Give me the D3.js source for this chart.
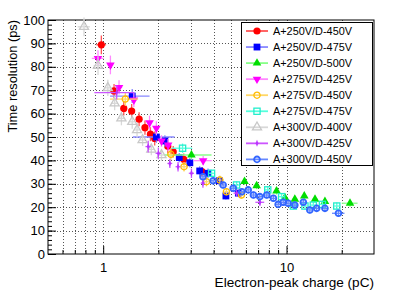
<!DOCTYPE html>
<html>
<head>
<meta charset="utf-8">
<script src="https://cdn.jsdelivr.net/npm/d3@7"></script>
<style>
body { margin: 0; background: #fff; }
text { font-family: "Liberation Sans", Arial, sans-serif; fill: #000; }
</style>
</head>
<body>
<script>
// legend names, one per series
const names = ["A+250V/D-450V", "A+250V/D-475V", "A+250V/D-500V",
    "A+275V/D-425V", "A+275V/D-450V", "A+275V/D-475V",
    "A+300V/D-400V", "A+300V/D-425V", "A+300V/D-450V"];

// each row: [charge (pC), resolution (ps), charge err, resolution err]
const a250d450 = [[0.977, 89.4, 0.06, 4], [1.146, 69.7, 0.06, 3], [1.295, 62.2, 0.05, 3], [1.43, 61.1, 0.05, 3],
    [1.57, 57.6, 0.05, 3], [1.69, 54.0, 0.05, 3], [1.81, 51.2, 0.05, 3], [1.91, 49.4, 0.05, 3],
    [2.25, 46.0, 0.06, 3], [2.41, 43.7, 0.06, 2.5], [2.75, 40.5, 0.07, 2.5], [3.46, 35.2, 0.08, 2]];
const a250d475 = [[1.44, 67.5, 0.35, 3], [1.95, 50.0, 0.5, 2.5], [2.17, 48.3, 0.08, 2.5], [2.6, 41.2, 0.08, 2],
    [2.97, 39.0, 0.1, 2], [3.36, 35.5, 0.1, 2], [3.73, 34.5, 0.1, 2], [4.3, 31.3, 0.12, 2],
    [4.67, 24.8, 0.15, 1.5], [5.46, 26.0, 0.15, 1.5]];
const a250d500 = [[3.03, 42.3, 0.87, 2], [5.9, 31.0, 0.2, 1.5], [6.87, 29.2, 0.25, 1.5], [8.82, 26.9, 0.3, 1.5],
    [9.8, 24.1, 0.3, 1.5], [11.1, 23.4, 0.4, 1.5], [12.5, 24.8, 0.4, 1.5], [14.3, 23.4, 0.5, 1.5],
    [16.2, 22.4, 0.6, 1.5], [22.2, 21.7, 2.2, 1.5]];
const a275d425 = [[0.937, 83.6, 0.07, 3.5], [1.095, 80.8, 0.04, 4], [1.22, 71.2, 0.05, 3], [1.47, 65.8, 0.05, 3],
    [1.79, 56.1, 0.05, 3], [1.95, 53.7, 0.05, 3], [2.08, 48.3, 0.06, 2.5], [2.26, 46.6, 0.06, 2.5],
    [3.51, 39.9, 0.4, 2]];
const a275d450 = [[1.32, 66.2, 0.23, 3], [2.34, 42.6, 0.07, 2.5], [2.76, 37.3, 0.08, 2], [3.66, 30.9, 0.1, 2],
    [4.33, 31.6, 0.1, 2], [4.7, 26.6, 0.12, 1.5], [5.68, 25.2, 0.15, 1.5]];
const a275d475 = [[2.71, 45.2, 0.35, 2], [3.9, 34.5, 0.12, 1.5], [5.34, 29.5, 0.2, 1.5], [7.9, 27.4, 0.3, 1.5],
    [9.4, 24.5, 0.3, 1.5], [10.9, 20.5, 0.35, 1.5], [12.6, 20.5, 0.4, 1.5], [14.0, 20.9, 0.45, 1.5],
    [15.7, 21.2, 0.5, 1.5], [18.8, 20.5, 0.6, 1.5]];
const a300d400 = [[0.786, 97.1, 0.06, 4], [0.937, 80.5, 0.05, 4], [1.06, 71.0, 0.05, 3.5], [1.155, 64.4, 0.05, 3],
    [1.257, 58.0, 0.05, 3], [1.44, 56.5, 0.05, 3], [1.53, 53.0, 0.05, 3], [1.64, 48.7, 0.05, 2.5],
    [1.83, 44.7, 0.06, 2.5], [2.08, 42.3, 0.07, 2.5]];
const a300d425 = [[1.185, 69.0, 0.29, 3], [1.76, 45.9, 0.06, 2.5], [2.0, 43.0, 0.07, 2.5], [2.31, 38.7, 0.07, 2],
    [2.56, 37.3, 0.08, 2], [3.03, 34.5, 0.1, 2], [3.5, 30.3, 0.1, 2], [5.34, 26.0, 0.2, 1.5],
    [7.16, 22.1, 0.4, 1.5]];
const a300d450 = [[3.5, 33.0, 0.1, 1.5], [3.98, 31.3, 0.12, 1.5], [4.51, 29.5, 0.13, 1.5], [5.12, 28.1, 0.15, 1.5],
    [5.7, 26.6, 0.17, 1.5], [6.18, 27.4, 0.18, 1.5], [6.6, 25.2, 0.2, 1.5], [7.15, 24.5, 0.21, 1.5],
    [7.8, 25.2, 0.23, 1.5], [8.48, 23.8, 0.25, 1.5], [9.0, 21.2, 0.27, 1.5], [9.6, 22.1, 0.29, 1.5],
    [10.2, 21.7, 0.3, 1.5], [11.1, 20.9, 0.33, 1.5], [12.35, 22.1, 0.37, 1.5], [13.4, 18.8, 0.4, 1.5],
    [14.6, 19.5, 0.44, 1.5], [16.2, 19.5, 0.49, 1.5], [19.2, 17.4, 1.5, 1.5]];

const seriesData = [a250d450, a250d475, a250d500, a275d425, a275d450, a275d475, a300d400, a300d425, a300d450];

const yTickValues = [0, 10, 20, 30, 40, 50, 60, 70, 80, 90, 100];

// styles
const markerColors = ["#ff0000", "#0000ff", "#00dd00", "#ff00ff", "#ffbb00", "#22eecc", "#c8c8c8", "#bb33ff", "#3366ff"];
const lineColors = ["#ff5555", "#8888ff", "#88ff88", "#ff88ff", "#ffd766", "#55ffdd", "#d8d8d8", "#cc55ff", "#6688ff"];
const markerTypes = ["fcircle", "fsquare", "ftri", "fdown", "ocircle", "osquare", "otri", "fdiamond", "ocircle2"];

const width = 407,
    height = 292;

const x = d3.scaleLog().domain([0.5, 30]).range([48, 374]);
const y = d3.scaleLinear().domain([0, 100]).range([254, 20]);

const svg = d3.select('body').append('svg')
    .attr('width', width)
    .attr('height', height);

svg.append('rect').attr('width', width).attr('height', height).attr('fill', '#fff');

//grid
const grid = svg.append('g').attr('stroke', '#555').attr('stroke-dasharray', '1,2').attr('stroke-width', 1);
x.ticks().filter(d => d > 0.5 && d < 30).forEach(d => {
    grid.append('line')
        .attr('x1', Math.round(x(d)) + 0.5).attr('x2', Math.round(x(d)) + 0.5)
        .attr('y1', y(100)).attr('y2', y(0));
});
yTickValues.filter(d => d > 0 && d < 100).forEach(d => {
    grid.append('line')
        .attr('x1', x(0.5)).attr('x2', x(30))
        .attr('y1', Math.round(y(d)) + 0.5).attr('y2', Math.round(y(d)) + 0.5);
});

//axes
svg.append('g')
    .attr('transform', `translate(${x(0.5)},0)`)
    .call(d3.axisLeft(y).tickValues(yTickValues).tickSizeInner(-8).tickSizeOuter(0).tickPadding(3));
svg.append('g')
    .attr('transform', `translate(${x(0.5)},0)`)
    .call(d3.axisLeft(y).tickValues(d3.range(0, 101, 2)).tickSizeInner(-4).tickSizeOuter(0).tickFormat(''));

svg.append('g')
    .attr('transform', `translate(0,${y(0)})`)
    .call(d3.axisBottom(x).tickValues([1, 10]).tickSizeInner(-8).tickSizeOuter(0).tickPadding(9).tickFormat(d3.format('d')));
svg.append('g')
    .attr('transform', `translate(0,${y(0)})`)
    .call(d3.axisBottom(x).tickValues(x.ticks().filter(d => d > 0.5 && d < 30 && d !== 1 && d !== 10))
        .tickSizeInner(-4).tickSizeOuter(0).tickFormat(''));

svg.selectAll('.domain').remove();
svg.selectAll('.tick line').attr('stroke', '#000');
svg.selectAll('.tick text')
    .style('font-family', '"Liberation Sans", Arial, sans-serif')
    .style('font-size', '13px');

//frame
svg.append('rect')
    .attr('x', x(0.5)).attr('y', y(100))
    .attr('width', x(30) - x(0.5)).attr('height', y(0) - y(100))
    .attr('fill', 'none').attr('stroke', '#000').attr('stroke-width', 1);

//axis titles
svg.append('text')
    .attr('transform', 'rotate(-90)')
    .attr('x', -y(100))
    .attr('y', 17)
    .attr('text-anchor', 'end')
    .style('font-size', '12.8px')
    .text('Time resolution (ps)');

svg.append('text')
    .attr('x', x(30))
    .attr('y', 287)
    .attr('text-anchor', 'end')
    .style('font-size', '13.6px')
    .text('Electron-peak charge (pC)');

function drawMarker(g, type, color, cx, cy) {
    const sym = d3.symbol();
    let p;
    let rot = '';
    if (type === 'fcircle') {
        p = g.append('circle').attr('r', 3.6).attr('fill', color);
    } else if (type === 'fsquare') {
        p = g.append('rect').attr('x', -3.4).attr('y', -3.4).attr('width', 6.8).attr('height', 6.8).attr('fill', color);
    } else if (type === 'ftri') {
        p = g.append('path').attr('d', sym.type(d3.symbolTriangle).size(32)()).attr('fill', color);
    } else if (type === 'fdown') {
        p = g.append('path').attr('d', sym.type(d3.symbolTriangle).size(32)()).attr('fill', color);
        rot = ' rotate(180)';
    } else if (type === 'ocircle') {
        p = g.append('circle').attr('r', 3.1).attr('fill', 'none').attr('stroke', color).attr('stroke-width', 1.3);
    } else if (type === 'ocircle2') {
        p = g.append('circle').attr('r', 2.9).attr('fill', 'none').attr('stroke', color).attr('stroke-width', 1.8);
    } else if (type === 'osquare') {
        p = g.append('rect').attr('x', -3.1).attr('y', -3.1).attr('width', 6.2).attr('height', 6.2)
            .attr('fill', 'none').attr('stroke', color).attr('stroke-width', 1.3);
    } else if (type === 'otri') {
        p = g.append('path').attr('d', sym.type(d3.symbolTriangle).size(36)()).attr('fill', 'none')
            .attr('stroke', color).attr('stroke-width', 1.3);
    } else {
        p = g.append('path').attr('d', 'M0,-3.5L1.4,0L0,3.5L-1.4,0Z').attr('fill', color);
    }
    p.attr('transform', `translate(${cx},${cy})${rot}`);
}

//data
seriesData.forEach((rows, i) => {
    const g = svg.append('g');
    rows.forEach(([q, t, qe, te]) => {
        g.append('line')
            .attr('x1', x(q - qe)).attr('x2', x(q + qe))
            .attr('y1', y(t)).attr('y2', y(t))
            .attr('stroke', lineColors[i]).attr('stroke-width', 1.3);
        g.append('line')
            .attr('x1', x(q)).attr('x2', x(q))
            .attr('y1', y(t - te)).attr('y2', y(t + te))
            .attr('stroke', lineColors[i]).attr('stroke-width', 1.3);
    });
    rows.forEach(([q, t]) => drawMarker(g, markerTypes[i], markerColors[i], x(q), y(t)));
});

//legend
const legend = svg.append('g');
legend.append('rect')
    .attr('x', 241.5).attr('y', 22.5)
    .attr('width', 131).attr('height', 143)
    .attr('fill', '#fff').attr('stroke', '#000').attr('stroke-width', 1);

names.forEach((name, i) => {
    const ly = 31 + i * 16.05;
    legend.append('line')
        .attr('x1', 246).attr('x2', 268)
        .attr('y1', ly).attr('y2', ly)
        .attr('stroke', lineColors[i]).attr('stroke-width', 1.8);
    drawMarker(legend, markerTypes[i], markerColors[i], 257, ly);
    legend.append('text')
        .attr('x', 273)
        .attr('y', ly)
        .attr('dy', '0.36em')
        .style('font-size', '10.9px')
        .text(name);
});
</script>
</body>
</html>
